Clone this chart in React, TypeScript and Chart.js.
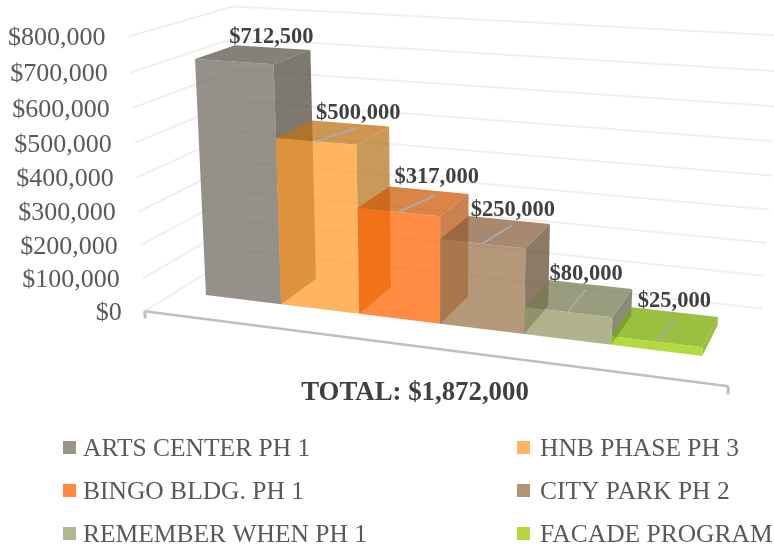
import React, { useEffect, useRef } from "react";
import { Chart, registerables } from "chart.js";

Chart.register(...registerables);

const categories = ["ARTS CENTER PH 1", "HNB PHASE PH 3", "BINGO BLDG. PH 1", "CITY PARK PH 2", "REMEMBER WHEN PH 1", "FACADE PROGRAM"];
const amounts = [712500, 500000, 317000, 250000, 80000, 25000];
const titleText = "TOTAL: $1,872,000";

const frontColors = ["#96908a", "#ffb45f", "#ff8c42", "#b5977a", "#b0b38e", "#b5d93c"];
const topColors = ["#85817a", "#ce9650", "#db8448", "#a8886f", "#9a9c80", "#9bbf3a"];
const sideColors = ["#7d7870", "#c9995a", "#cc8250", "#8d7967", "#8a8c79", "#96c030"];
const legendColors = ["#9a948c", "#ffb55f", "#ff8a3d", "#b09478", "#b0b890", "#b5d63c"];

const labelNudgeX = [-1, 8, 8, 4, -4, 0];
const labelNudgeY = [-10, -10, -13, -10, -10, -11];
const seamShift = [0, 0.17, 0.15, 0.1, 0, 0.05];

const SERIF = '"Liberation Serif", "Times New Roman", serif';
const ALPHA = 0.75;
const WALL = { cLeft: -0.4, cRight: 6.4, dFront: -0.75, dBack: 1.75 };

// Perspective view of the category / value / depth box.
function project(c: number, V: number, d: number) {
  const w = 1 - 0.0178 * c - 0.00627 * V + 0.051 * d;
  return {
    x: (206 + 70.2 * c - 2.76 * V + 50.3 * d) / w,
    y: (295 + 3.83 * c - 33.5 * V - 10.7 * d) / w,
  };
}

function glass(hex: string) {
  const n = parseInt(hex.slice(1), 16);
  const f = (v: number) => Math.max(0, Math.round((v - 255 * (1 - ALPHA)) / ALPHA));
  return `rgba(${f((n >> 16) & 255)},${f((n >> 8) & 255)},${f(n & 255)},${ALPHA})`;
}

function poly(ctx: CanvasRenderingContext2D, pts: { x: number; y: number }[], fill: string) {
  ctx.beginPath();
  pts.forEach((p, i) => (i ? ctx.lineTo(p.x, p.y) : ctx.moveTo(p.x, p.y)));
  ctx.closePath();
  ctx.fillStyle = fill;
  ctx.fill();
}

function seg(ctx: CanvasRenderingContext2D, a: { x: number; y: number }, b: { x: number; y: number }, color: string, width: number) {
  ctx.beginPath();
  ctx.moveTo(a.x, a.y);
  ctx.lineTo(b.x, b.y);
  ctx.strokeStyle = color;
  ctx.lineWidth = width;
  ctx.stroke();
}

const perspectivePlugin = {
  id: "perspective",
  beforeDraw(chart: any) {
    const y = chart.scales.y;
    y._computeLabelArea = () => undefined;
    y.getLabelItems().forEach((item: any, i: number) => {
      const V = y.ticks[i].value / 100000;
      const p = project(WALL.cLeft, V, WALL.dFront);
      item.options.translation = [p.x - 23, p.y + 2];
      item.options.textAlign = "right";
    });
  },
  beforeDatasetsDraw(chart: any) {
    const ctx: CanvasRenderingContext2D = chart.ctx;
    const y = chart.scales.y;
    ctx.save();
    ctx.lineCap = "butt";
    y.ticks.forEach((t: any) => {
      const V = t.value / 100000;
      const a = project(WALL.cLeft, V, WALL.dFront);
      const b = project(WALL.cLeft, V, WALL.dBack);
      const c = project(WALL.cRight, V, WALL.dBack);
      seg(ctx, a, b, "#efefef", 2);
      seg(ctx, b, c, "#efefef", 2);
    });
    const fl = project(WALL.cLeft, 0, WALL.dFront);
    const fr = project(WALL.cRight, 0, WALL.dFront);
    seg(ctx, fl, fr, "#bfbfbf", 2.5);
    seg(ctx, fl, project(WALL.cLeft, -0.22, WALL.dFront), "#bfbfbf", 3);
    seg(ctx, fr, project(WALL.cRight, -0.22, WALL.dFront), "#bfbfbf", 3);
    ctx.restore();
  },
  afterDatasetsDraw(chart: any) {
    const ctx: CanvasRenderingContext2D = chart.ctx;
    const xs = chart.scales.x;
    const ys = chart.scales.y;
    const meta = chart.getDatasetMeta(0);
    const span = chart.data.labels.length;
    ctx.save();
    meta.data.forEach((el: any, i: number) => {
      const c0 = ((el.x - el.width / 2 - xs.left) / xs.width) * span;
      const c1 = ((el.x + el.width / 2 - xs.left) / xs.width) * span;
      const V = ys.getValueForPixel(el.y) / 100000;
      const ftl = project(c0, V, 0);
      const ftr = project(c1, V, 0);
      const btl = project(c0, V, 1);
      const btr = project(c1, V, 1);
      const fbl = project(c0, 0, 0);
      const fbr = project(c1, 0, 0);
      const bbr = project(c1, 0, 1);
      poly(ctx, [fbr, bbr, btr, ftr], glass(sideColors[i]));
      poly(ctx, [ftl, ftr, btr, btl], glass(topColors[i]));
      poly(ctx, [fbl, fbr, ftr, ftl], glass(frontColors[i]));
      if (i > 0) {
        const mid = (c0 + c1) / 2;
        seg(ctx, project(mid, V, 0), project(mid + seamShift[i], V, 0.8), "#a9a9a9", 2);
      }
    });
    // value labels
    ctx.font = `bold 22.5px ${SERIF}`;
    ctx.fillStyle = "#404040";
    ctx.textAlign = "center";
    ctx.textBaseline = "middle";
    meta.data.forEach((el: any, i: number) => {
      const mid = ((el.x - xs.left) / xs.width) * span;
      const V = ys.getValueForPixel(el.y) / 100000;
      const p = project(mid, V, 1);
      ctx.fillText("$" + amounts[i].toLocaleString("en-US"), p.x + labelNudgeX[i], p.y + labelNudgeY[i]);
    });
    // two-column legend
    ctx.font = `25.5px ${SERIF}`;
    ctx.textAlign = "left";
    categories.forEach((name, i) => {
      const col = i % 2;
      const row = Math.floor(i / 2);
      const sx = col ? 517 : 63;
      const ty = 448 + row * 43;
      ctx.fillStyle = legendColors[i];
      ctx.fillRect(sx, ty - 7, 13, 13);
      ctx.fillStyle = "#595959";
      ctx.fillText(name, col ? 540 : 83, ty + 1);
    });
    ctx.restore();
  },
};

export default function App() {
  const ref = useRef<HTMLCanvasElement | null>(null);
  useEffect(() => {
    const chart = new Chart(ref.current as HTMLCanvasElement, {
      type: "bar",
      data: {
        labels: categories,
        datasets: [
          {
            label: "Funding",
            data: amounts,
            backgroundColor: "rgba(0,0,0,0)",
            borderWidth: 0,
            barPercentage: 1,
            categoryPercentage: 1,
          },
        ],
      },
      options: {
        responsive: false,
        animation: false,
        devicePixelRatio: 1,
        layout: { padding: { left: 56, top: 4, right: 0, bottom: 0 } },
        plugins: {
          legend: { display: false },
          tooltip: { enabled: false },
          title: {
            display: true,
            text: titleText,
            position: "bottom",
            color: "#404040",
            font: { family: SERIF, size: 26.8, weight: "bold" },
            padding: { top: 0, bottom: 134.5 },
          },
        },
        scales: {
          x: { display: false },
          y: {
            min: 0,
            max: 800000,
            border: { display: false },
            grid: { display: false },
            ticks: {
              stepSize: 100000,
              autoSkip: false,
              color: "#595959",
              font: { family: SERIF, size: 26 },
              callback: (v: any) => "$" + Number(v).toLocaleString("en-US"),
            },
          },
        },
      } as any,
      plugins: [perspectivePlugin as any],
    });
    return () => chart.destroy();
  }, []);
  return (
    <div style={{ position: "absolute", left: 0, top: 0, width: 774, height: 544, background: "#fff" }}>
      <canvas ref={ref} width={774} height={544} style={{ display: "block", filter: "blur(0.5px)" }} />
    </div>
  );
}
